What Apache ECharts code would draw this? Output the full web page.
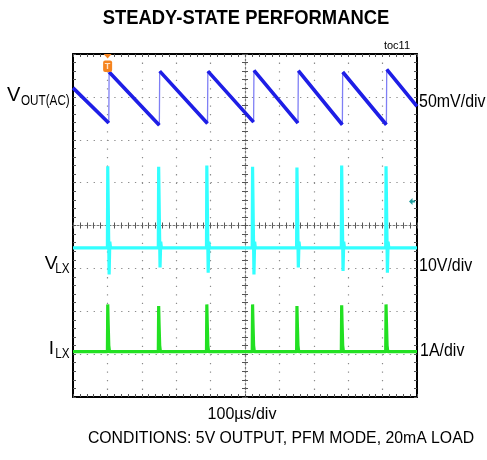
<!DOCTYPE html>
<html><head><meta charset="utf-8">
<script src="https://cdn.jsdelivr.net/npm/echarts@6/dist/echarts.min.js"></script>
<style>html,body{margin:0;padding:0;background:#fff}#c{width:487px;height:460px}</style>
</head><body><div id="c"></div>
<script>
// Time in µs (100 µs/div); amplitude in screen divisions measured from the centre line.
// VOUT: ramp start, then alternating (bottom before edge, top after edge) pairs, then end.
const voutTime = [0, 104, 105, 251, 252, 391, 392, 525, 526, 654, 655, 783, 784, 911, 912, 1000];
const voutDiv  = [3.21, 2.39, 3.58, 2.34, 3.60, 2.38, 3.60, 2.41, 3.62, 2.39, 3.61, 2.35, 3.58, 2.35, 3.64, 2.78];

const vlxTime = [0,
  100,101,104,105,107,109,
  248,249,252,253,255,257,
  388,389,392,393,395,397,
  521,522,525,526,528,530,
  650,651,654,655,657,659,
  780,781,784,785,787,789,
  909,910,913,914,916,918,
  1000];
const vlxDiv = [-0.52,
  -0.52,1.38,1.38,-1.14,-0.38,-0.52,
  -0.52,1.37,1.37,-0.98,-0.38,-0.52,
  -0.52,1.40,1.40,-1.10,-0.38,-0.52,
  -0.52,1.37,1.37,-1.14,-0.38,-0.52,
  -0.52,1.35,1.35,-0.98,-0.38,-0.52,
  -0.52,1.40,1.40,-1.06,-0.38,-0.52,
  -0.52,1.38,1.38,-1.10,-0.38,-0.52,
  -0.52];

const ilxTime = [0,
  100,101,102,104,106,
  248,249,250,252,254,
  388,389,390,392,394,
  521,522,523,525,527,
  650,651,652,654,656,
  780,781,782,784,786,
  909,910,911,913,915,
  1000];
const ilxDiv = [-2.94,
  -2.94,-1.84,-2.20,-2.80,-2.94,
  -2.94,-1.88,-2.24,-2.80,-2.94,
  -2.94,-1.84,-2.20,-2.80,-2.94,
  -2.94,-1.84,-2.20,-2.80,-2.94,
  -2.94,-1.88,-2.24,-2.80,-2.94,
  -2.94,-1.86,-2.22,-2.80,-2.94,
  -2.94,-1.84,-2.20,-2.80,-2.94,
  -2.94];

const triggerTime = 105;      // trigger point (µs)
const triggerLevelDiv = 0.56; // trigger level marker (div)

const titleText = 'STEADY-STATE PERFORMANCE';
const timebaseText = '100µs/div';
const conditionsText = 'CONDITIONS: 5V OUTPUT, PFM MODE, 20mA LOAD';
const scaleTexts = ['50mV/div', '10V/div', '1A/div'];

const FONT = '"Liberation Sans", Arial, sans-serif';
const zip = (a, b) => a.map((v, i) => [v, b[i]]);

// split VOUT into slow ramps (thick) and fast rising edges (thin)
const voutRamps = [], voutEdges = [];
for (let i = 0; i + 1 < voutTime.length; i++) {
  const seg = [[voutTime[i], voutDiv[i]], [voutTime[i + 1], voutDiv[i + 1]]];
  if (i % 2 === 0) voutRamps.push(...seg, [null, null]);
  else voutEdges.push(...seg, [null, null]);
}

const chart = echarts.init(document.getElementById('c'), null, {renderer: 'canvas'});

const gridDotX = {color: '#8c8c8c', width: 1.2, type: [1.3, 7.28]};
const gridDotY = {color: '#8c8c8c', width: 1.2, type: [1.3, 5.58]};
const tickStyle = {color: '#555', width: 1};

function xAx(extra) {
  return Object.assign({
    type: 'value', min: 0, max: 1000, interval: 100,
    axisLabel: {show: false}, splitLine: {show: false},
    axisLine: {show: true, onZero: false, lineStyle: {color: '#000', width: 2}},
    axisTick: {show: true, inside: true, length: 3, lineStyle: tickStyle},
    minorTick: {show: true, splitNumber: 5, length: 3, lineStyle: tickStyle}
  }, extra);
}
function yAx(extra) {
  return Object.assign({
    type: 'value', min: -4, max: 4, interval: 1,
    axisLabel: {show: false}, splitLine: {show: false},
    axisLine: {show: true, onZero: false, lineStyle: {color: '#000', width: 2}},
    axisTick: {show: true, inside: true, length: 3, lineStyle: tickStyle},
    minorTick: {show: true, splitNumber: 5, length: 3, lineStyle: tickStyle}
  }, extra);
}
const centreLine = {show: true, onZero: false, lineStyle: {color: '#777', width: 1.2, type: [2, 2]}};

chart.setOption({
  animation: false,
  backgroundColor: '#fff',
  grid: {left: 73, top: 54, width: 344, height: 343, containLabel: false},
  xAxis: [
    xAx({position: 'bottom', splitLine: {show: true, lineStyle: gridDotX}}),
    xAx({position: 'top'}),
    xAx({position: 'bottom', offset: -171.5, axisLine: centreLine}),
    xAx({position: 'bottom', offset: -171.5, axisLine: {show: false}, axisTick: {show: true, inside: false, length: 3, lineStyle: tickStyle}})
  ],
  yAxis: [
    yAx({position: 'left', splitLine: {show: true, lineStyle: gridDotY}}),
    yAx({position: 'right'}),
    yAx({position: 'left', offset: -172, axisLine: centreLine}),
    yAx({position: 'left', offset: -172, axisLine: {show: false}, axisTick: {show: true, inside: false, length: 3, lineStyle: tickStyle}})
  ],
  series: [
    {name: 'ILX', type: 'line', xAxisIndex: 0, yAxisIndex: 0, data: zip(ilxTime, ilxDiv),
     showSymbol: false, symbol: 'none', lineStyle: {color: '#22e022', width: 3.2}, z: 3},
    {name: 'VLX', type: 'line', xAxisIndex: 0, yAxisIndex: 0, data: zip(vlxTime, vlxDiv),
     showSymbol: false, symbol: 'none', lineStyle: {color: '#33ffff', width: 3.2}, z: 4},
    {name: 'VOUT edges', type: 'line', xAxisIndex: 0, yAxisIndex: 0, data: voutEdges, connectNulls: false,
     showSymbol: false, symbol: 'none', lineStyle: {color: '#7f7ff5', width: 1.3}, z: 5},
    {name: 'VOUT', type: 'line', xAxisIndex: 0, yAxisIndex: 0, data: voutRamps, connectNulls: false,
     showSymbol: false, symbol: 'none', lineStyle: {color: '#1e1ee6', width: 3.6}, z: 6}
  ]
});

function txt(x, y, text, size, opts) {
  opts = opts || {};
  const align = opts.align || 'left';
  return {
    type: 'text', x: x, y: y, scaleX: opts.scaleX || 1, z: 100,
    style: {
      text: text, font: (opts.bold ? 'bold ' : '') + size + 'px ' + FONT,
      fill: opts.fill || '#000',
      align: align, textAlign: align,
      verticalAlign: 'middle', textVerticalAlign: 'middle'
    }
  };
}

const tp = chart.convertToPixel({xAxisIndex: 0, yAxisIndex: 0}, [triggerTime, 4]);
const lp = chart.convertToPixel({xAxisIndex: 0, yAxisIndex: 0}, [1000, triggerLevelDiv]);
const tx = tp[0] - 1.5, ty = tp[1];
const lx = lp[0] - 2, ly = lp[1];

chart.setOption({
  graphic: [
    txt(246, 18, titleText, 20, {bold: true, align: 'center', scaleX: 0.92}),
    txt(410, 46, 'toc11', 11, {align: 'right'}),
    // left channel labels
    txt(7, 95, 'V', 20),
    txt(21, 101, 'OUT(AC)', 15, {scaleX: 0.78}),
    txt(57.5, 264, 'V', 19, {align: 'right'}),
    txt(69.5, 269, 'LX', 15, {align: 'right', scaleX: 0.78}),
    txt(54, 349, 'I', 19, {align: 'right'}),
    txt(69.5, 354, 'LX', 15, {align: 'right', scaleX: 0.78}),
    // right scale labels
    txt(419, 102, scaleTexts[0], 19, {scaleX: 0.84}),
    txt(419, 266, scaleTexts[1], 19, {scaleX: 0.84}),
    txt(420, 351, scaleTexts[2], 19, {scaleX: 0.84}),
    // bottom texts
    txt(242, 415, timebaseText, 16, {align: 'center'}),
    txt(281, 438.5, conditionsText, 15.8, {align: 'center'}),
    // trigger marker
    {type: 'polygon', z: 101, shape: {points: [[tx - 4, ty], [tx + 4, ty], [tx, ty + 4.5]]}, style: {fill: '#f5841f'}},
    {type: 'rect', z: 101, shape: {x: tx - 4.5, y: ty + 6.5, width: 9, height: 11.5, r: 2}, style: {fill: '#f5841f'}},
    {type: 'text', z: 102, x: tx, y: ty + 12.5, style: {text: 'T', font: 'bold 9px ' + FONT, fill: '#ffe2c8',
      align: 'center', textAlign: 'center', verticalAlign: 'middle', textVerticalAlign: 'middle'}},
    // trigger level marker
    {type: 'polygon', z: 101, shape: {points: [[lx - 6, ly], [lx - 2.5, ly - 3.5], [lx - 2.5, ly + 3.5]]}, style: {fill: '#1f9d9d'}},
    {type: 'rect', z: 101, shape: {x: lx - 3, y: ly - 1, width: 3, height: 2}, style: {fill: '#1f9d9d'}}
  ]
});
</script>
</body></html>
